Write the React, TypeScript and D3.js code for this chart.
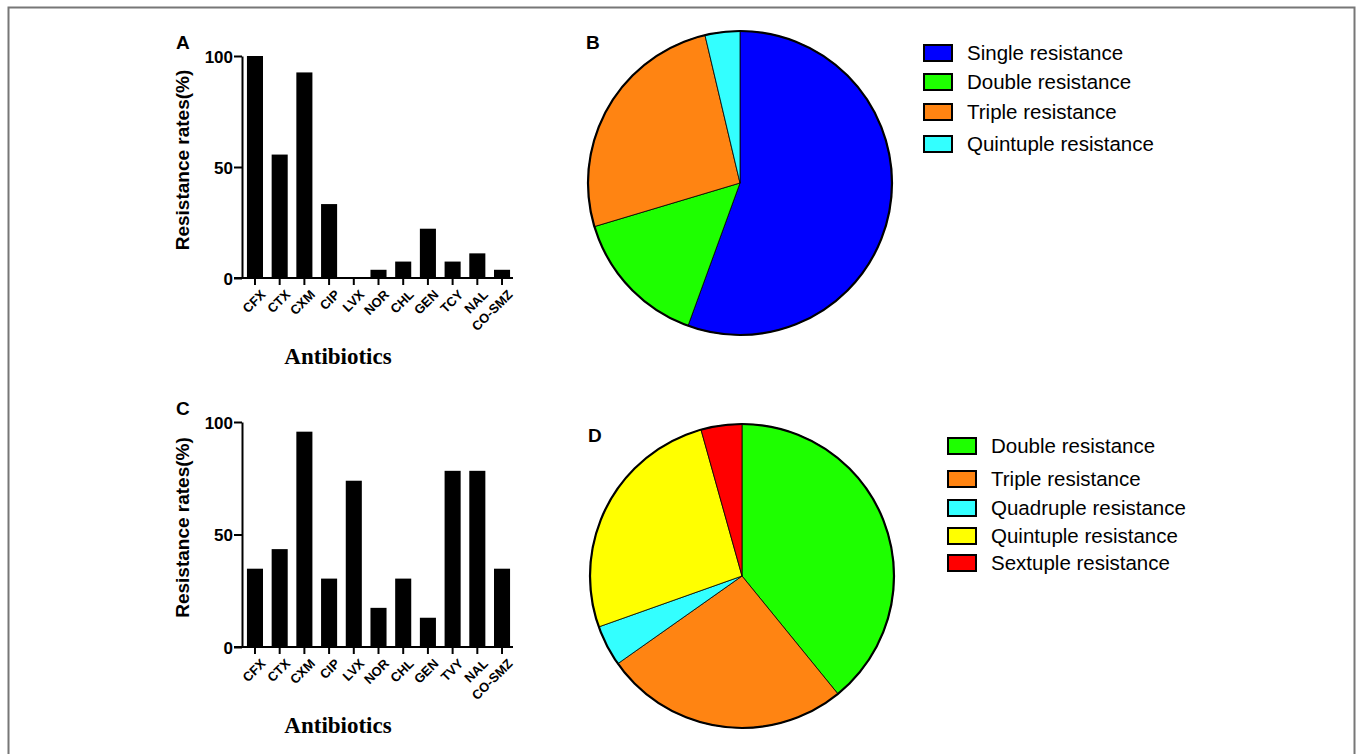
import React, { useEffect, useRef } from "react";
import * as d3 from "d3";

// panel A / C bar data (resistance rate %)
const drugsA = ["CFX", "CTX", "CXM", "CIP", "LVX", "NOR", "CHL", "GEN", "TCY", "NAL", "CO-SMZ"];
const ratesA = [100, 55.6, 92.6, 33.3, 0, 3.7, 7.4, 22.2, 7.4, 11.1, 3.7];
const drugsC = ["CFX", "CTX", "CXM", "CIP", "LVX", "NOR", "CHL", "GEN", "TVY", "NAL", "CO-SMZ"];
const ratesC = [34.8, 43.5, 95.7, 30.4, 73.9, 17.4, 30.4, 13.0, 78.3, 78.3, 34.8];
const yTicks = [0, 50, 100];

// panel B / D pie data (isolate counts)
const labelsB = ["Single resistance", "Double resistance", "Triple resistance", "Quintuple resistance"];
const countsB = [15, 4, 7, 1];
const colorsB = ["#0000ff", "#1eff00", "#ff8412", "#33ffff"];
const labelsD = ["Double resistance", "Triple resistance", "Quadruple resistance", "Quintuple resistance", "Sextuple resistance"];
const countsD = [9, 6, 1, 6, 1];
const colorsD = ["#1eff00", "#ff8412", "#33ffff", "#ffff00", "#ff0000"];

const SANS = "'Liberation Sans', Arial, sans-serif";
const SERIF = "'Liberation Serif', 'Times New Roman', serif";

export default function App() {
  const ref = useRef<SVGSVGElement>(null);

  useEffect(() => {
    const svg = d3.select(ref.current);
    svg.selectAll("*").remove();

    // outer frame
    svg.append("rect")
      .attr("x", 8.5).attr("y", 7.5)
      .attr("width", 1346).attr("height", 760)
      .attr("fill", "none").attr("stroke", "#777").attr("stroke-width", 2);

    // bar chart panel
    const drawBars = (drugs: string[], rates: number[], top: number, bottom: number, letter: string) => {
      const g = svg.append("g");
      const x = d3.scaleBand().domain(drugs).range([242, 515]).paddingInner(0.35).paddingOuter(0.2);
      const y = d3.scaleLinear().domain([0, 100]).range([bottom, top]);

      g.selectAll("rect.bar")
        .data(rates)
        .enter()
        .append("rect")
        .attr("class", "bar")
        .attr("x", (d, i) => x(drugs[i])!)
        .attr("width", x.bandwidth())
        .attr("y", d => y(d))
        .attr("height", d => y(0) - y(d))
        .attr("fill", "#000");

      // y axis
      const ya = g.append("g")
        .attr("transform", "translate(242,0)")
        .call(d3.axisLeft(y).tickValues(yTicks).tickSize(8).tickSizeOuter(0).tickPadding(1));
      ya.select(".domain").attr("stroke-width", 2);
      ya.selectAll(".tick line").attr("stroke-width", 2);
      ya.selectAll("text")
        .style("font-family", SANS).style("font-weight", "bold").style("font-size", "17px")
        .attr("dy", "0.36em");

      // x axis baseline + ticks
      g.append("line")
        .attr("x1", 234).attr("x2", 513)
        .attr("y1", y(0)).attr("y2", y(0))
        .attr("stroke", "#000").attr("stroke-width", 2);
      g.selectAll("line.xt")
        .data(drugs)
        .enter()
        .append("line")
        .attr("class", "xt")
        .attr("x1", d => x(d)! + x.bandwidth() / 2)
        .attr("x2", d => x(d)! + x.bandwidth() / 2)
        .attr("y1", y(0)).attr("y2", y(0) + 7)
        .attr("stroke", "#000").attr("stroke-width", 2);
      g.selectAll("text.xl")
        .data(drugs)
        .enter()
        .append("text")
        .attr("class", "xl")
        .attr("transform", d => `translate(${x(d)! + x.bandwidth() / 2 + 5},${y(0) + 11}) rotate(-45)`)
        .attr("text-anchor", "end")
        .attr("dy", "0.7em")
        .style("font-family", SANS).style("font-weight", "bold").style("font-size", "13px")
        .text(d => d);

      // titles
      g.append("text")
        .attr("transform", `translate(189,${(top + bottom) / 2 - 7}) rotate(-90)`)
        .attr("text-anchor", "middle")
        .style("font-family", SANS).style("font-weight", "bold").style("font-size", "19px")
        .text("Resistance rates(%)");
      g.append("text")
        .attr("x", 338).attr("y", bottom + 86)
        .attr("text-anchor", "middle")
        .style("font-family", SERIF).style("font-weight", "bold").style("font-size", "23px")
        .text("Antibiotics");
      g.append("text")
        .attr("x", 176).attr("y", top - 7)
        .style("font-family", SANS).style("font-weight", "bold").style("font-size", "19px")
        .text(letter);
    };

    drawBars(drugsA, ratesA, 56, 278, "A");
    drawBars(drugsC, ratesC, 422, 647, "C");

    // pie panel
    const drawPie = (labels: string[], counts: number[], colors: string[], cx: number, cy: number,
                     letter: string, lx: number, ly: number[]) => {
      const g = svg.append("g").attr("transform", `translate(${cx},${cy})`);
      const pie = d3.pie<number>().sort(null).value(d => d);
      const arc = d3.arc<d3.PieArcDatum<number>>().innerRadius(0).outerRadius(152);
      g.selectAll("path")
        .data(pie(counts))
        .enter()
        .append("path")
        .attr("d", arc)
        .attr("fill", (d, i) => colors[i])
        .attr("stroke", "#000")
        .attr("stroke-width", 0.8);
      g.append("circle")
        .attr("r", 152)
        .attr("fill", "none").attr("stroke", "#000").attr("stroke-width", 2.2);

      svg.append("text")
        .attr("x", cx - 154).attr("y", cy - 134)
        .style("font-family", SANS).style("font-weight", "bold").style("font-size", "19px")
        .text(letter);

      const lg = svg.append("g");
      labels.forEach((lab, i) => {
        lg.append("rect")
          .attr("x", lx).attr("y", ly[i] - 8)
          .attr("width", 28).attr("height", 16)
          .attr("fill", colors[i]).attr("stroke", "#000").attr("stroke-width", 2);
        lg.append("text")
          .attr("x", lx + 43).attr("y", ly[i])
          .attr("dy", "0.35em")
          .style("font-family", SANS).style("font-size", "20.5px")
          .text(lab);
      });
    };

    drawPie(labelsB, countsB, colorsB, 740, 183, "B", 924, [53, 82, 112, 144]);
    drawPie(labelsD, countsD, colorsD, 742, 576, "D", 948, [446, 479, 508, 536, 563]);
  }, []);

  return (
    <svg
      ref={ref}
      width={1357}
      height={754}
      style={{ position: "fixed", left: 0, top: 0, background: "#fff", display: "block" }}
    />
  );
}
